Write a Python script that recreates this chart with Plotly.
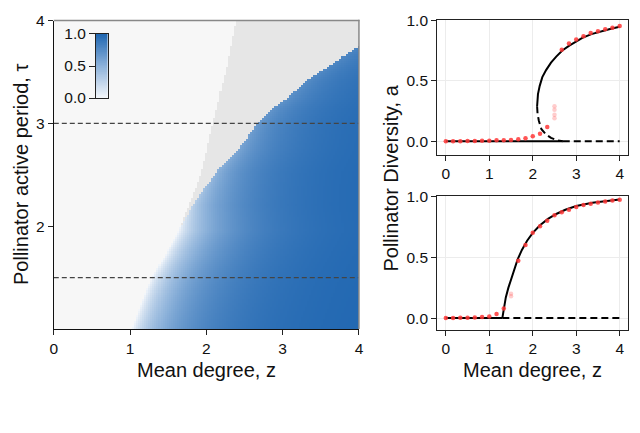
import numpy as np
import plotly.graph_objects as go

# ---------------- data ----------------
# phase diagram boundaries (left panel)
blue_bd_tau = [1.0, 1.31, 1.50, 1.62, 1.81, 1.99, 2.18, 2.37, 2.55, 2.74, 2.99, 3.15, 3.27, 3.41, 3.75, 4.0]
blue_bd_z   = [1.03, 1.18, 1.29, 1.38, 1.53, 1.66, 1.81, 1.98, 2.17, 2.41, 2.67, 2.88, 3.10, 3.31, 4.00, 4.40]
gray_bd_tau = [1.95, 2.00, 2.25, 2.50, 3.00, 3.50, 4.00]
gray_bd_z   = [1.64, 1.66, 1.80, 1.93, 2.09, 2.25, 2.39]
edge_tau    = [1.0, 1.95, 2.20, 2.50, 3.00, 3.50, 4.00]
edge_val    = [0.0, 0.0, 0.28, 0.48, 0.66, 0.76, 0.82]
dash_tau    = [3.0, 1.5]

# top-right panel (tau = 3)
top_low_solid_z = [0.0, 2.69]
top_low_dash_z  = [2.69, 4.0]
top_up_z = [2.10, 2.105, 2.12, 2.16, 2.22, 2.31, 2.42, 2.54, 2.68, 2.84, 3.00, 3.14, 3.35, 3.60, 3.80, 4.00]
top_up_a = [0.29, 0.33, 0.39, 0.458, 0.53, 0.59, 0.65, 0.70, 0.75, 0.79, 0.826, 0.855, 0.885, 0.913, 0.93, 0.947]
top_mid_z = [2.10, 2.11, 2.14, 2.20, 2.31, 2.42, 2.55, 2.69]
top_mid_a = [0.29, 0.23, 0.17, 0.10, 0.055, 0.028, 0.01, 0.0]
top_dot_z = [0.0, 0.167, 0.333, 0.5, 0.667, 0.833, 1.0, 1.167, 1.333, 1.5, 1.667, 1.833,
             2.0, 2.167, 2.333, 2.667, 2.833, 3.0, 3.167, 3.333, 3.5, 3.667, 3.833, 4.0]
top_dot_a = [0.0, 0.0, 0.0, 0.003, 0.003, 0.005, 0.005, 0.008, 0.008, 0.011, 0.016, 0.026,
             0.042, 0.063, 0.119, 0.757, 0.807, 0.841, 0.868, 0.894, 0.910, 0.926, 0.937, 0.952]
top_faint_z = [2.5, 2.5, 2.5, 2.5]
top_faint_a = [0.29, 0.26, 0.22, 0.19]

# bottom-right panel (tau = 1.5)
bot_low_solid_z = [0.0, 1.30]
bot_low_dash_z  = [1.30, 4.0]
bot_up_z = [1.30, 1.33, 1.38, 1.44, 1.50, 1.57, 1.65, 1.75, 1.87, 2.00, 2.16, 2.35, 2.54, 2.75, 3.00, 3.37, 3.70, 4.00]
bot_up_a = [0.0, 0.08, 0.17, 0.25, 0.32, 0.40, 0.48, 0.56, 0.635, 0.70, 0.76, 0.815, 0.855, 0.89, 0.92, 0.947, 0.962, 0.974]
bot_dot_z = [0.0, 0.167, 0.333, 0.5, 0.667, 0.833, 1.0, 1.167, 1.333, 1.667, 1.833,
             2.0, 2.167, 2.333, 2.5, 2.667, 2.833, 3.0, 3.167, 3.333, 3.5, 3.667, 3.833, 4.0]
bot_dot_a = [0.0, 0.0, 0.002, 0.003, 0.005, 0.008, 0.013, 0.034, 0.079, 0.47, 0.60,
             0.70, 0.755, 0.80, 0.845, 0.87, 0.89, 0.913, 0.928, 0.94, 0.95, 0.958, 0.965, 0.972]
bot_faint_z = [1.5, 1.5]
bot_faint_a = [0.20, 0.18]

x_ticks = [0, 1, 2, 3, 4]
tau_ticks = [2, 3, 4]
a_ticks = [0.0, 0.5, 1.0]
a_tick_text = ["0.0", "0.5", "1.0"]

# ---------------- heatmap field ----------------
zg = np.linspace(0, 4, 151)
tg = np.linspace(1, 4, 151)
cat = np.zeros((tg.size, zg.size))
val = np.full((tg.size, zg.size), np.nan)
for i, t in enumerate(tg):
    zb = np.interp(t, blue_bd_tau, blue_bd_z)
    zgb = np.interp(t, gray_bd_tau, gray_bd_z)
    ve = np.interp(t, edge_tau, edge_val)
    for j, zz in enumerate(zg):
        if zz >= zb:
            d = zz - zb
            val[i, j] = 1 - (1 - ve) * np.exp(-1.63 * d ** 0.85)
        elif zgb < zb and zz >= zgb:
            cat[i, j] = 1

blues = [[0, '#f4f7fb'], [0.5, '#8db2da'], [1, '#1f66b1']]

W, H = 640, 433
def px(x): return x / W
def py(y): return 1 - y / H

FONT = "Liberation Sans, Arial, Helvetica, sans-serif"
TICKF = dict(family=FONT, size=15.5, color='#111')
LABF = dict(family=FONT, size=20, color='#111')
RED = 'rgba(255,55,55,0.85)'
RED_F = 'rgba(255,55,55,0.25)'

fig = go.Figure()
fig.add_trace(go.Heatmap(x=zg, y=tg, z=cat, colorscale=[[0, '#f7f7f7'], [1, '#e6e6e6']],
                         zmin=0, zmax=1, showscale=False, hoverinfo='skip'))
fig.add_trace(go.Heatmap(x=zg, y=tg, z=val, colorscale=blues, zmin=0, zmax=1,
                         showscale=False, hoverinfo='skip'))
for t in dash_tau:
    fig.add_trace(go.Scatter(x=[0, 4], y=[t, t], mode='lines',
                             line=dict(color='#444', width=1.3, dash='5px,3px'), showlegend=False))

# colorbar inset
cb_vals = np.linspace(0, 1, 101)
fig.add_trace(go.Heatmap(x=[0], y=cb_vals, z=[[v] for v in cb_vals], colorscale=blues,
                         zmin=0, zmax=1, showscale=False, xaxis='x4', yaxis='y4', hoverinfo='skip'))

def lines(xa, ya, x, y, dash=None):
    fig.add_trace(go.Scatter(x=x, y=y, mode='lines', xaxis=xa, yaxis=ya, showlegend=False,
                             line=dict(color='black', width=2, dash=dash)))

lines('x2', 'y2', top_low_solid_z, [0, 0])
lines('x2', 'y2', top_low_dash_z, [0, 0], '7px,4px')
lines('x2', 'y2', top_up_z, top_up_a)
lines('x2', 'y2', top_mid_z, top_mid_a, '7px,4px')
fig.add_trace(go.Scatter(x=top_faint_z, y=top_faint_a, mode='markers', xaxis='x2', yaxis='y2',
                         marker=dict(color=RED_F, size=4.5), showlegend=False))
fig.add_trace(go.Scatter(x=top_dot_z, y=top_dot_a, mode='markers', xaxis='x2', yaxis='y2',
                         marker=dict(color=RED, size=4.5), showlegend=False))

lines('x3', 'y3', bot_low_solid_z, [0, 0])
lines('x3', 'y3', bot_low_dash_z, [0, 0], '7px,4px')
lines('x3', 'y3', bot_up_z, bot_up_a)
fig.add_trace(go.Scatter(x=bot_faint_z, y=bot_faint_a, mode='markers', xaxis='x3', yaxis='y3',
                         marker=dict(color=RED_F, size=4.5), showlegend=False))
fig.add_trace(go.Scatter(x=bot_dot_z, y=bot_dot_a, mode='markers', xaxis='x3', yaxis='y3',
                         marker=dict(color=RED, size=4.5), showlegend=False))

axcommon = dict(showline=True, linecolor='#222', linewidth=1, mirror=True, ticks='outside',
                ticklen=5, tickcolor='#222', tickfont=TICKF, zeroline=False)
axleft = dict(showline=True, linecolor='#111', linewidth=1, mirror=False, ticks='outside',
              ticklen=5, tickcolor='#222', tickfont=TICKF, zeroline=False, showgrid=False)

fig.update_layout(
    width=W, height=H, autosize=False, margin=dict(l=0, r=0, t=0, b=0),
    paper_bgcolor='white', plot_bgcolor='white', showlegend=False,
    xaxis=dict(domain=[px(50.5), px(360)], range=[0, 4], tickvals=x_ticks, **axleft),
    yaxis=dict(domain=[py(333), py(12)], range=[1, 4], tickvals=tau_ticks, **axleft),
    xaxis2=dict(domain=[px(439.3), px(633.3)], range=[-0.2, 4.2], tickvals=x_ticks, anchor='y2',
                showgrid=True, gridcolor='#ececec', **axcommon),
    yaxis2=dict(domain=[py(151.7), py(11.7)], range=[-0.111, 1.0], tickvals=a_ticks, ticktext=a_tick_text,
                anchor='x2', showgrid=True, gridcolor='#ececec', **axcommon),
    xaxis3=dict(domain=[px(439.3), px(633.3)], range=[-0.2, 4.2], tickvals=x_ticks, anchor='y3',
                showgrid=True, gridcolor='#ececec', **axcommon),
    yaxis3=dict(domain=[py(334), py(195)], range=[-0.097, 1.0], tickvals=a_ticks, ticktext=a_tick_text,
                anchor='x3', showgrid=True, gridcolor='#ececec', **axcommon),
    xaxis4=dict(domain=[px(93.3), px(105)], range=[-0.5, 0.5], anchor='y4', showticklabels=False,
                showline=True, linecolor='#222', mirror=True, ticks='', showgrid=False, zeroline=False),
    yaxis4=dict(domain=[py(92.7), py(26)], range=[0, 1], anchor='x4', tickvals=a_ticks, ticktext=a_tick_text,
                showline=True, linecolor='#222', mirror=True, ticks='outside', ticklen=6, tickcolor='#222',
                tickfont=TICKF, showgrid=False, zeroline=False),
    shapes=[
        dict(type='line', xref='paper', yref='paper', x0=px(50.5), x1=px(360.5), y0=py(12), y1=py(12),
             line=dict(color='#888', width=1.5), layer='above'),
        dict(type='line', xref='paper', yref='paper', x0=px(360), x1=px(360), y0=py(333), y1=py(11.3),
             line=dict(color='#888', width=1.5), layer='above'),
    ],
    annotations=[
        dict(text="Mean degree, z", x=px(205), y=py(376), xref='paper', yref='paper', showarrow=False,
             font=LABF, xanchor='center', yanchor='middle'),
        dict(text="Mean degree, z", x=px(536.3), y=py(376), xref='paper', yref='paper', showarrow=False,
             font=LABF, xanchor='center', yanchor='middle'),
        dict(text="Pollinator active period, τ", x=px(17), y=py(172), xref='paper', yref='paper',
             showarrow=False, textangle=-90, font=LABF, xanchor='center', yanchor='middle'),
        dict(text="Pollinator Diversity, a", x=px(393), y=py(176), xref='paper', yref='paper',
             showarrow=False, textangle=-90, font=LABF, xanchor='center', yanchor='middle'),
    ],
)

fig.write_html("out.html")
